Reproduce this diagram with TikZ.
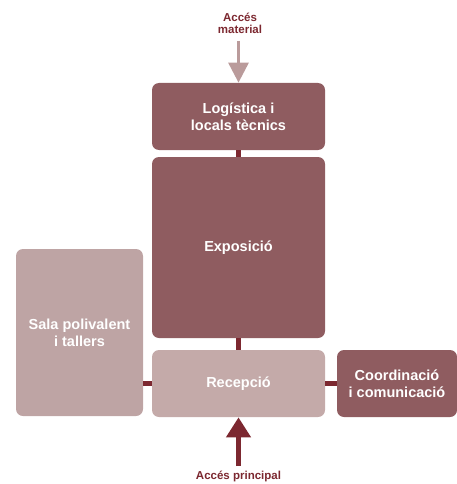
\documentclass[tikz,border=0pt]{standalone}
\usepackage{fontspec}
\setmainfont{Liberation Sans}
\usetikzlibrary{arrows.meta}

\definecolor{maroon}{RGB}{124,40,48}
\definecolor{mauve}{RGB}{143,92,96}
\definecolor{mauvelight}{RGB}{196,170,169}
\definecolor{mauvesala}{RGB}{190,164,164}
\definecolor{mauvearrow}{RGB}{186,155,155}

\tikzset{every picture/.style={line width=0.75pt}}
\tikzset{
  area/.style={rounded corners=7pt, inner sep=0pt, text=white, align=center,
    font=\bfseries\fontsize{14.5}{17}\selectfont},
  link/.style={draw=maroon, line width=5pt},
  access/.style={text=maroon, align=center, font=\bfseries\fontsize{11.5}{12}\selectfont}
}

\begin{document}
\begin{tikzpicture}[x=1pt,y=1pt,yscale=-1,xscale=1]
\useasboundingbox (0,0) rectangle (457,484);

%Shape: Rectangle [id:logistica]
\node [area, fill=mauve, minimum width=173pt, minimum height=67pt] (logi) at (238.5,116.5) {Logística i\\locals tècnics};
%Shape: Rectangle [id:exposicio]
\node [area, fill=mauve, minimum width=173pt, minimum height=181pt] (expo) at (238.5,247.5) {Exposició};
%Shape: Rectangle [id:recepcio]
\node [area, fill=mauvelight, minimum width=173pt, minimum height=67pt] (recep) at (238.5,383.5) {Recepció};
%Shape: Rectangle [id:coordinacio]
\node [area, fill=mauve, minimum width=120pt, minimum height=67pt] (coord) at (397,383.5) {Coordinació\\i comunicació};
%Shape: Rectangle [id:sala]
\node [area, fill=mauvesala, minimum width=127pt, minimum height=167pt] (sala) at (79.5,332.5) {Sala polivalent\\i tallers};

%Straight Lines [id:links]
\draw [link] (logi.south) -- (expo.north) ;
\draw [link] (expo.south) -- (recep.north) ;
\draw [link] (sala.east |- recep.west) -- (recep.west) ;
\draw [link] (recep.east) -- (coord.west) ;

% Text Node
\node [access] (matlabel) at (240,23) {Accés\\material};
\coordinate (matstart) at (238.5,41);
%Straight Lines [id:arrowmaterial]
\draw [draw=mauvearrow, line width=3pt, -{Triangle[width=20pt,length=20pt]}] (matstart) -- (logi.north) ;

% Text Node
\node [access, fill=white, inner sep=1pt] (prinlabel) at (238.5,476) {Accés principal};
\coordinate (prinstart) at (238.5,466);
%Straight Lines [id:arrowprincipal]
\draw [draw=maroon, line width=4.5pt, -{Triangle[width=24pt,length=20pt]}] (prinstart) -- (recep.south) ;

\end{tikzpicture}
\end{document}
